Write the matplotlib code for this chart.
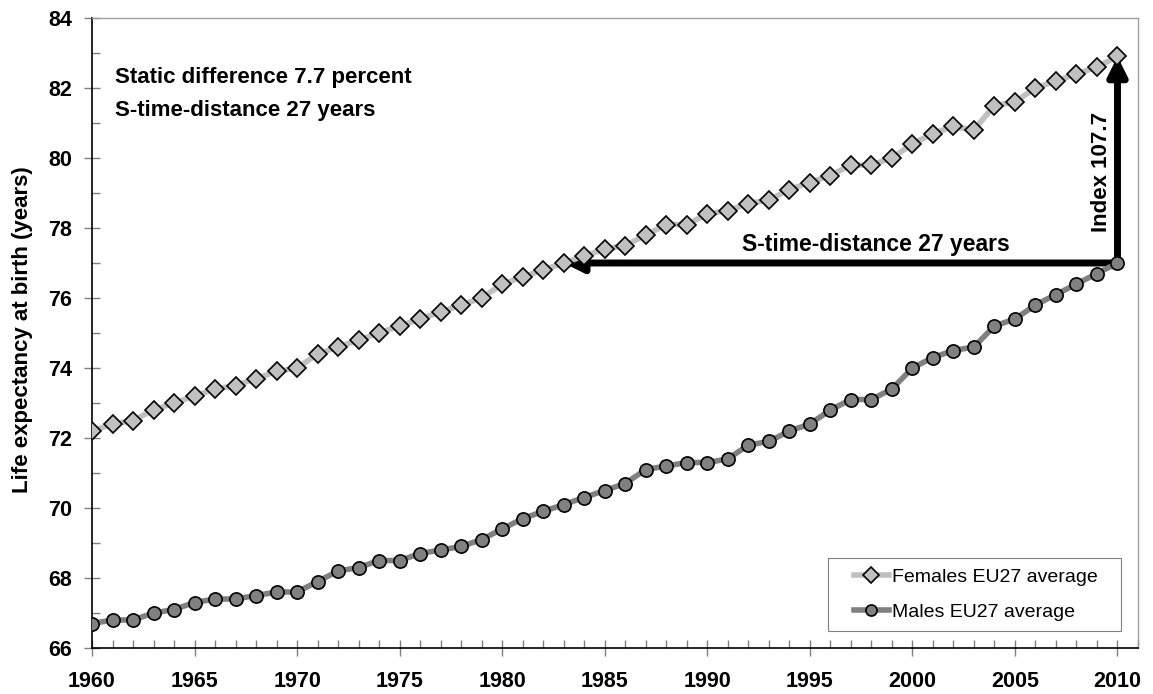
import numpy as np
import matplotlib
matplotlib.use("Agg")
import matplotlib.pyplot as plt
from matplotlib.ticker import MultipleLocator
from matplotlib.patches import Rectangle

plt.rcParams['font.family'] = ['Liberation Sans', 'DejaVu Sans']

years = list(range(1960, 2011))
females = [72.2, 72.4, 72.5, 72.8, 73.0, 73.2, 73.4, 73.5, 73.7, 73.9,
           74.0, 74.4, 74.6, 74.8, 75.0, 75.2, 75.4, 75.6, 75.8, 76.0,
           76.4, 76.6, 76.8, 77.0, 77.2, 77.4, 77.5, 77.8, 78.1, 78.1,
           78.4, 78.5, 78.7, 78.8, 79.1, 79.3, 79.5, 79.8, 79.8, 80.0,
           80.4, 80.7, 80.9, 80.8, 81.5, 81.6, 82.0, 82.2, 82.4, 82.6,
           82.9]
males = [66.7, 66.8, 66.8, 67.0, 67.1, 67.3, 67.4, 67.4, 67.5, 67.6,
         67.6, 67.9, 68.2, 68.3, 68.5, 68.5, 68.7, 68.8, 68.9, 69.1,
         69.4, 69.7, 69.9, 70.1, 70.3, 70.5, 70.7, 71.1, 71.2, 71.3,
         71.3, 71.4, 71.8, 71.9, 72.2, 72.4, 72.8, 73.1, 73.1, 73.4,
         74.0, 74.3, 74.5, 74.6, 75.2, 75.4, 75.8, 76.1, 76.4, 76.7,
         77.0]

series_labels = ['Females EU27 average', 'Males EU27 average']
gap_year = 1983   # year when females reached the 2010 male level
index_label = 'Index 107.7'
distance_label = 'S-time-distance 27 years'
note_lines = ['Static difference 7.7 percent', 'S-time-distance 27 years']

fig = plt.figure(figsize=(11.53, 6.94), dpi=100)
ax = fig.add_axes([92 / 1153, 1 - 648 / 694, (1138 - 92) / 1153, (648 - 18) / 694])

ax.plot(years, females, color='#c0c0c0', lw=4, marker='D', ms=9,
        mfc='#c0c0c0', mec='black', mew=1.2, label=series_labels[0], zorder=3)
ax.plot(years, males, color='#808080', lw=4, marker='o', ms=9.5,
        mfc='#808080', mec='black', mew=1.2, label=series_labels[1], zorder=3)

# arrows
x_end = years[-1]
ax.annotate('', xy=(gap_year, males[-1]), xytext=(x_end, males[-1]),
            arrowprops=dict(arrowstyle='-|>', color='black', lw=5,
                            mutation_scale=28, shrinkA=0, shrinkB=0), zorder=2)
ax.annotate('', xy=(x_end, females[-1]), xytext=(x_end, males[-1]),
            arrowprops=dict(arrowstyle='-|>', color='black', lw=5,
                            mutation_scale=28, shrinkA=0, shrinkB=0), zorder=2)
ax.text(1998.2, 77.2, distance_label, ha='center', va='bottom',
        fontsize=16.5, fontweight='bold')
ax.text(2009.2, 79.6, index_label, ha='center', va='center', rotation=90,
        fontsize=16, fontweight='bold')
ax.text(1961.1, 82.3, note_lines[0], ha='left', va='center',
        fontsize=16, fontweight='bold')
ax.text(1961.1, 81.37, note_lines[1], ha='left', va='center',
        fontsize=16, fontweight='bold')

ax.set_xlim(1960, 2011.0)
ax.set_ylim(66, 84)
ax.xaxis.set_major_locator(MultipleLocator(5))
ax.xaxis.set_minor_locator(MultipleLocator(1))
ax.yaxis.set_major_locator(MultipleLocator(2))
ax.yaxis.set_minor_locator(MultipleLocator(1))
ax.tick_params(which='major', direction='inout', length=11, width=1,
               color='#808080', labelsize=15.5)
ax.tick_params(which='minor', direction='in', length=6, width=1,
               color='#808080')
for lab in ax.get_xticklabels() + ax.get_yticklabels():
    lab.set_fontweight('bold')
ax.tick_params(axis='x', pad=11)
ax.tick_params(axis='y', pad=9)

for side in ['top', 'right']:
    ax.spines[side].set_color('#a0a0a0')
    ax.spines[side].set_linewidth(1)
for side in ['left', 'bottom']:
    ax.spines[side].set_color('black')
    ax.spines[side].set_linewidth(1.2)

ax.set_ylabel('Life expectancy at birth (years)', fontsize=16,
              fontweight='bold')
ax.yaxis.set_label_coords(-0.056, 0.505)

# legend: box drawn separately so it can be wider than the default padding
ax.add_patch(Rectangle((0.7036, 0.027), 0.2801, 0.1159, transform=ax.transAxes,
                       facecolor='white', edgecolor='#808080', lw=0.8, zorder=4))
leg = ax.legend(loc='center', bbox_to_anchor=(0.8446, 0.085),
                fontsize=14, frameon=False, handlelength=1.8,
                labelspacing=0.9, handletextpad=0.15)
leg.set_zorder(5)
for h in leg.legend_handles:
    h.set_markersize(8)

fig.savefig('out.png', dpi=100)
